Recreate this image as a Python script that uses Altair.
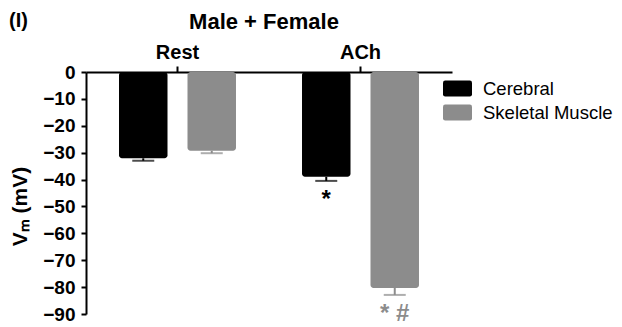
import altair as alt
import pandas as pd

groups = ["Rest", "Rest", "ACh", "ACh"]
tissues = ["Cerebral", "Skeletal Muscle", "Cerebral", "Skeletal Muscle"]
means = [-32.1, -29.3, -39.0, -80.3]
sems = [0.9, 0.9, 1.5, 2.6]
sig = ["", "", "*", "* #"]

group_order = ["Rest", "ACh"]
tissue_order = ["Cerebral", "Skeletal Muscle"]
colors = ["#000000", "#8c8c8c"]
y_ticks = [0, -10, -20, -30, -40, -50, -60, -70, -80, -90]

df = pd.DataFrame({
    "group": groups,
    "tissue": tissues,
    "mean": means,
    "lower": [m - s for m, s in zip(means, sems)],
    "sig": sig,
})

FONT = "Liberation Sans"

x_enc = alt.X("group:N", sort=group_order,
              scale=alt.Scale(paddingInner=0, paddingOuter=0),
              axis=alt.Axis(orient="top", title=None, labelAngle=0,
                            labelFontWeight="bold", labelFontSize=20,
                            labelPadding=4, tickSize=6, tickWidth=2,
                            domainWidth=2, domainColor="black", tickColor="black",
                            labelColor="black", labelFont=FONT))
xoff_enc = alt.XOffset("tissue:N", sort=tissue_order,
                       scale=alt.Scale(paddingInner=0.292, paddingOuter=0.482))
color_enc = alt.Color("tissue:N", sort=tissue_order,
                      scale=alt.Scale(domain=tissue_order, range=colors),
                      legend=alt.Legend(title=None, orient="none", legendX=357, legendY=2,
                                        symbolType="M-0.85,-0.55 H0.85 Q1,-0.55 1,-0.4 V0.4 Q1,0.55 0.85,0.55 H-0.85 Q-1,0.55 -1,0.4 V-0.4 Q-1,-0.55 -0.85,-0.55 Z",
                                        symbolSize=841, symbolStrokeWidth=0,
                                        labelFontSize=18.5, labelFont=FONT, labelColor="black",
                                        labelOffset=11, rowPadding=-1, padding=0,
                                        labelLimit=200, symbolOpacity=1))
y_scale = alt.Scale(domain=[-90, 0], nice=False, zero=False)

y_axis = alt.Axis(values=y_ticks, title="Vₘ (mV)", titleFontSize=21,
                  titleFontWeight="bold", titleFont=FONT, titleColor="black",
                  titleX=-66, titleY=134, titleAngle=270, titleBaseline="middle",
                  titleAlign="center",
                  labelFontWeight="bold", labelFontSize=19, labelFont=FONT,
                  labelColor="black", labelPadding=6, labelOverlap=False,
                  labelBound=False, labelFlush=False,
                  tickSize=5, tickWidth=2, tickColor="black",
                  domainWidth=2, domainColor="black", grid=False)

bars = alt.Chart(df).mark_bar(cornerRadius=3).encode(
    x=x_enc,
    xOffset=xoff_enc,
    y=alt.Y("mean:Q", scale=y_scale, axis=y_axis),
    y2=alt.Y2(datum=0),
    color=color_enc,
)

rules = alt.Chart(df).mark_rule(strokeWidth=2).encode(
    x=x_enc, xOffset=xoff_enc,
    y=alt.Y("mean:Q", scale=y_scale, axis=y_axis),
    y2="lower:Q",
    color=color_enc,
)

caps = alt.Chart(df).mark_tick(orient="horizontal", size=22, thickness=2).encode(
    x=x_enc, xOffset=xoff_enc,
    y=alt.Y("lower:Q", scale=y_scale, axis=y_axis),
    color=color_enc,
)

labels = alt.Chart(df).mark_text(baseline="top", dy=7, fontSize=24, fontWeight="bold",
                                 font=FONT).encode(
    x=x_enc, xOffset=xoff_enc,
    y=alt.Y("lower:Q", scale=y_scale, axis=y_axis),
    text="sig:N",
    color=color_enc,
)

panel = alt.Chart(pd.DataFrame({"t": ["(I)"]})).mark_text(
    fontSize=20, fontWeight="bold", font=FONT, align="left", baseline="middle",
    color="black").encode(
    x=alt.value(-77), y=alt.value(-51), text="t:N")

title_txt = alt.Chart(pd.DataFrame({"t": ["Male + Female"]})).mark_text(
    fontSize=22, fontWeight="bold", font=FONT, align="center", baseline="middle",
    color="black").encode(
    x=alt.value(178), y=alt.value(-50), text="t:N")

chart = alt.layer(bars, rules, caps, labels, panel, title_txt).properties(
    width=366, height=242,
    autosize=alt.AutoSizeParams(type="none"),
    padding={"left": 78, "top": 64, "right": 162, "bottom": 9},
).configure_view(stroke=None).configure_axis(labelOverlap=False)

chart.save("out.html", embed_options={"renderer": "svg", "actions": False})
